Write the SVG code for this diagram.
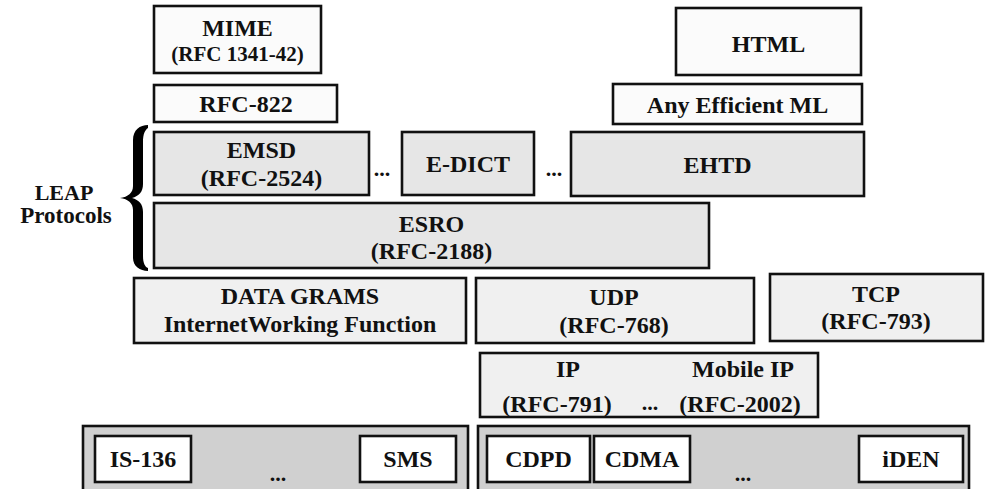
<svg xmlns="http://www.w3.org/2000/svg" width="986" height="489" viewBox="0 0 986 489">
<style>
  text { font-family: "Liberation Serif", "Times New Roman", serif; font-weight: bold; font-size: 24px; fill: #111; text-anchor: middle; }
  rect { stroke: #111; stroke-width: 2.6; }
  .top { fill: #fbfbfb; }
  .leap { fill: #e6e6e6; }
  .mid { fill: #f0f0f0; }
  .cont { fill: #d0d0d0; }
  .phy { fill: #ffffff; }
  .dots { font-size: 22px; }
</style>
<g id="connectors"></g>
<g id="mime"><rect class="top" x="154" y="6" width="167" height="67"/><text x="237.5" y="36">MIME</text><text x="237.5" y="61" style="font-size:21px">(RFC 1341-42)</text></g>
<g id="rfc822"><rect class="top" x="154" y="85" width="183" height="37"/><text x="246" y="112">RFC-822</text></g>
<g id="html"><rect class="top" x="676" y="8" width="185" height="67"/><text x="768.5" y="52">HTML</text></g>
<g id="anyml"><rect class="top" x="613" y="84" width="249" height="40"/><text x="737.5" y="113">Any Efficient ML</text></g>
<g id="emsd"><rect class="leap" x="154" y="132" width="215" height="63"/><text x="261.5" y="158">EMSD</text><text x="261.5" y="186">(RFC-2524)</text></g>
<g id="dots1"><text class="dots" x="382" y="176">...</text></g>
<g id="edict"><rect class="leap" x="402" y="132" width="132" height="63"/><text x="468" y="172">E-DICT</text></g>
<g id="dots2"><text class="dots" x="554" y="176">...</text></g>
<g id="ehtd"><rect class="leap" x="571" y="132" width="293" height="64"/><text x="717.5" y="173">EHTD</text></g>
<g id="esro"><rect class="leap" x="154" y="203" width="555" height="65"/><text x="431.5" y="232">ESRO</text><text x="431.5" y="259">(RFC-2188)</text></g>
<g id="leap-brace"><path d="M148,125 C140,125 133,130 133,140 L133,186 C133,193 128,197 120,198 C128,199 133,203 133,210 L133,258 C133,266 140,271 148,271 L148,268 C145,267 143,263 143,256 L143,212 C143,204 139,200 132,198 C139,196 143,192 143,184 L143,142 C143,134 145,130 148,128 Z" fill="#000"/><text x="64" y="200" style="font-size:22px">LEAP</text><text x="66" y="223" style="font-size:23px">Protocols</text></g>
<g id="datagrams"><rect class="mid" x="134" y="278" width="332" height="65"/><text x="300" y="304">DATA GRAMS</text><text x="300" y="332">InternetWorking Function</text></g>
<g id="udp"><rect class="mid" x="476" y="278" width="278" height="65"/><text x="614" y="305">UDP</text><text x="614" y="333">(RFC-768)</text></g>
<g id="tcp"><rect class="mid" x="770" y="274" width="213" height="67"/><text x="876" y="302">TCP</text><text x="876" y="329">(RFC-793)</text></g>
<g id="ip"><rect class="mid" x="480" y="353" width="338" height="64"/><text x="568" y="377">IP</text><text x="557" y="412">(RFC-791)</text><text class="dots" x="650" y="410">...</text><text x="743" y="377">Mobile IP</text><text x="740" y="412">(RFC-2002)</text></g>
<g id="cellular"><rect class="cont" x="83" y="426" width="385" height="70"/><rect class="phy" x="95" y="436" width="96" height="46"/><text x="143" y="467">IS-136</text><text class="dots" x="278" y="481">...</text><rect class="phy" x="360" y="436" width="96" height="46"/><text x="408" y="467">SMS</text></g>
<g id="packet"><rect class="cont" x="478" y="426" width="491" height="70"/><rect class="phy" x="487" y="436" width="103" height="46"/><text x="538.5" y="467">CDPD</text><rect class="phy" x="594" y="436" width="96" height="46"/><text x="642" y="467">CDMA</text><text class="dots" x="743" y="481">...</text><rect class="phy" x="859" y="436" width="104" height="46"/><text x="911" y="467">iDEN</text></g>
</svg>
